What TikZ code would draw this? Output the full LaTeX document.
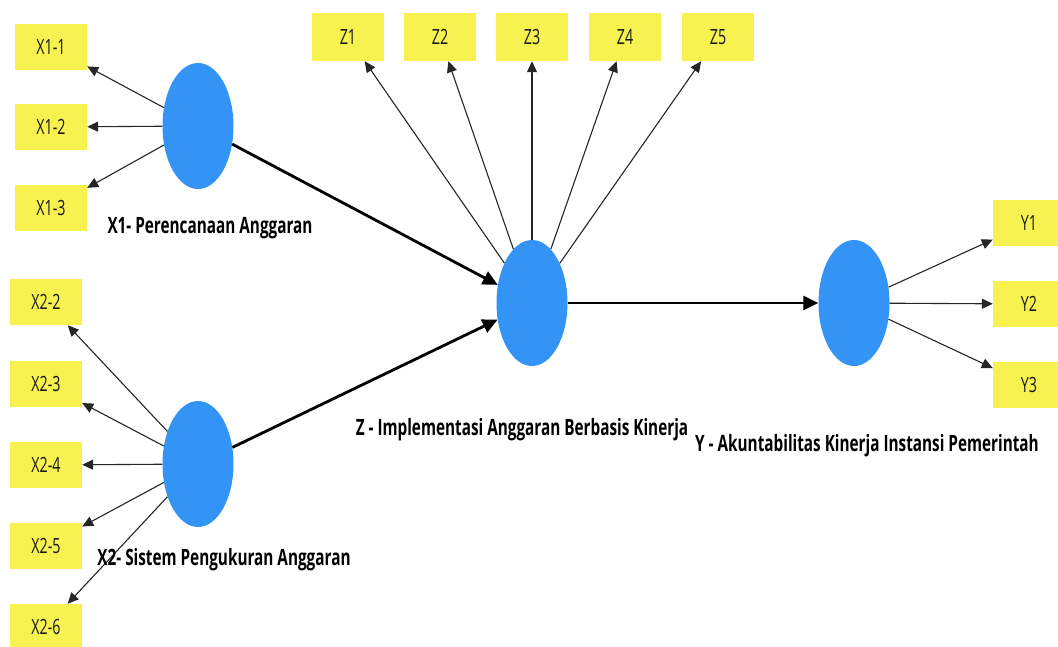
\documentclass[tikz,border=0pt]{standalone}
\usepackage{fontspec}
\setmainfont{Open Sans}[FakeStretch=0.68]
\usetikzlibrary{shapes.geometric,arrows.meta}
\definecolor{indyellow}{RGB}{248,242,80}
\definecolor{latblue}{RGB}{52,148,246}
\definecolor{txtdark}{RGB}{25,25,25}
\tikzset{
  ind/.style={fill=indyellow, draw=none, minimum width=72pt, minimum height=46pt, inner sep=0pt,
              font=\fontsize{21}{23}\selectfont, text=txtdark},
  lat/.style={ellipse, fill=latblue, draw=none, minimum width=71pt, minimum height=126pt, inner sep=0pt},
  latlabel/.style={font=\fontsize{22.5}{24}\selectfont\bfseries, text=black, inner sep=0pt},
  load/.style={draw=black!85, line width=1.1pt, -{Triangle[length=11pt,width=10pt]}},
  path/.style={draw=black, line width=2.8pt, -{Triangle[length=15pt,width=14pt]}}
}
\begin{document}
\begin{tikzpicture}[x=1pt,y=-1pt]
\useasboundingbox (0,0) rectangle (1058,646);
\fill[white] (0,0) rectangle (1058,646);
% indicators X1
\node[ind] (x11) at (51,47) {X1-1};
\node[ind] (x12) at (51,127) {X1-2};
\node[ind] (x13) at (51,208) {X1-3};
% indicators X2
\node[ind] (x22) at (46,302) {X2-2};
\node[ind] (x23) at (46,384) {X2-3};
\node[ind] (x24) at (46,465) {X2-4};
\node[ind] (x25) at (46,546) {X2-5};
\node[ind] (x26) at (46,627) {X2-6};
% indicators Z
\node[ind, minimum height=48pt] (z1) at (348,37) {Z1};
\node[ind, minimum height=48pt] (z2) at (440,37) {Z2};
\node[ind, minimum height=48pt] (z3) at (532,37) {Z3};
\node[ind, minimum height=48pt] (z4) at (625,37) {Z4};
\node[ind, minimum height=48pt] (z5) at (718,37) {Z5};
% indicators Y
\node[ind] (y1) at (1029,223) {Y1};
\node[ind] (y2) at (1029,304) {Y2};
\node[ind] (y3) at (1029,385) {Y3};
% latent variables
\node[lat] (X1) at (198,126) {};
\node[lat] (X2) at (198,464) {};
\node[lat] (Z) at (532,303) {};
\node[lat] (Y) at (854,303) {};
% labels
\node[latlabel] (lx1) at (210,228) {X1- Perencanaan Anggaran};
\node[latlabel] (lz) at (522,430) {Z - Implementasi Anggaran Berbasis Kinerja};
\node[latlabel] (ly) at (867,446) {Y - Akuntabilitas Kinerja Instansi Pemerintah};
% loadings
\foreach \t in {x11,x12,x13} \draw[load] (X1) -- (\t);
\foreach \t in {x22,x23,x24,x25,x26} \draw[load] (X2) -- (\t);
\foreach \t in {z1,z2,z3,z4,z5} \draw[load] (Z) -- (\t);
\foreach \t in {y1,y2,y3} \draw[load] (Y) -- (\t);
% X2 label drawn over the X2-6 loading line
\node[latlabel] (lx2) at (224,560) {X2- Sistem Pengukuran Anggaran};
% structural paths
\draw[path] (X1) -- (Z);
\draw[path] (X2) -- (Z);
\draw[path] (Z) -- (Y);
\end{tikzpicture}
\end{document}
